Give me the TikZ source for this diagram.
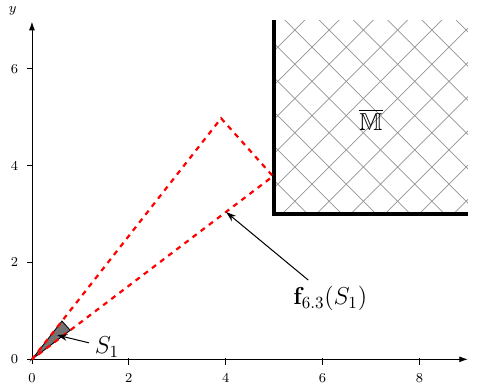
\documentclass[tikz,border=0pt]{standalone}
\usepackage{amsmath,amssymb}
\usetikzlibrary{arrows.meta,calc}
\begin{document}
\begin{tikzpicture}[
  axis/.style={black, line width=0.5pt, -{Latex[length=5pt,width=3.5pt]}},
  tick/.style={black, line width=0.5pt},
  ticklab/.style={font=\footnotesize, inner sep=1pt},
  hatch/.style={gray!85, line width=0.45pt},
  wall/.style={black, line width=2.4pt},
  image/.style={red, line width=1.3pt, dash pattern=on 3pt off 3pt},
  pointer/.style={black, line width=0.6pt, -{Stealth[length=6pt,width=4pt]}},
  biglab/.style={font=\Large}
]
\useasboundingbox (-0.66,-0.58) rectangle (9.19,7.42);

% hatched region
\begin{scope}
  \clip (5,3) rectangle (9,7);
  \foreach \k in {-12,...,14} {
    \draw[hatch] ({5.43+\k*0.7071-5},{6.80-5}) -- ++(10,10);
    \draw[hatch] ({5.43+\k*0.7071-5},{6.80+5}) -- ++(10,-10);
  }
\end{scope}
\draw[wall] (5,7) -- (5,3) -- (9,3);
\node[font=\Large] (M) at (7,4.95) {$\overline{\mathbb{M}}$};

% axes
\coordinate (xs) at (-0.1,0);
\coordinate (xe) at (9,0);
\coordinate (ys) at (0,-0.1);
\coordinate (ye) at (0,6.97);
\draw[axis] (xs) -- (xe);
\draw[axis] (ys) -- (ye);
\node[font=\footnotesize] (xl) at (9.27,-0.2) {$x$};
\node[font=\footnotesize] (yl) at (-0.4,7.2) {$y$};

\foreach \v in {2,4,6,8} {
  \draw[tick] (\v,0.03) -- (\v,-0.11);
  \node[ticklab] (xt\v) at (\v,-0.38) {$\v$};
}
\node[ticklab] (xt0) at (0,-0.38) {$0$};
\foreach \v in {2,4,6} {
  \draw[tick] (0.03,\v) -- (-0.11,\v);
  \node[ticklab] (yt\v) at (-0.36,\v) {$\v$};
}
\node[ticklab] (yt0) at (-0.36,0) {$0$};

% S1
\coordinate (O) at (0,0);
\coordinate (A) at (0.62,0.79);
\coordinate (B) at (0.79,0.60);
\fill[gray!90!black, draw=black, line width=0.5pt] (O) -- (A) -- (B) -- cycle;

% image f(S1)
\coordinate (FA) at ($6.3*(A)$);
\coordinate (FB) at ($6.3*(B)$);
\draw[image] (O) -- (FA) -- (FB) -- cycle;

% labels with pointers
\node[biglab] (s1lab) at (1.55,0.25) {$S_1$};
\coordinate (s1tip) at (0.52,0.50);
\draw[pointer] (s1lab) -- (s1tip);

\node[biglab] (flab) at (6.16,1.26) {$\mathbf{f}_{6.3}(S_1)$};
\coordinate (ftip) at (4.01,3.04);
\draw[pointer] (flab) -- (ftip);
\end{tikzpicture}
\end{document}
